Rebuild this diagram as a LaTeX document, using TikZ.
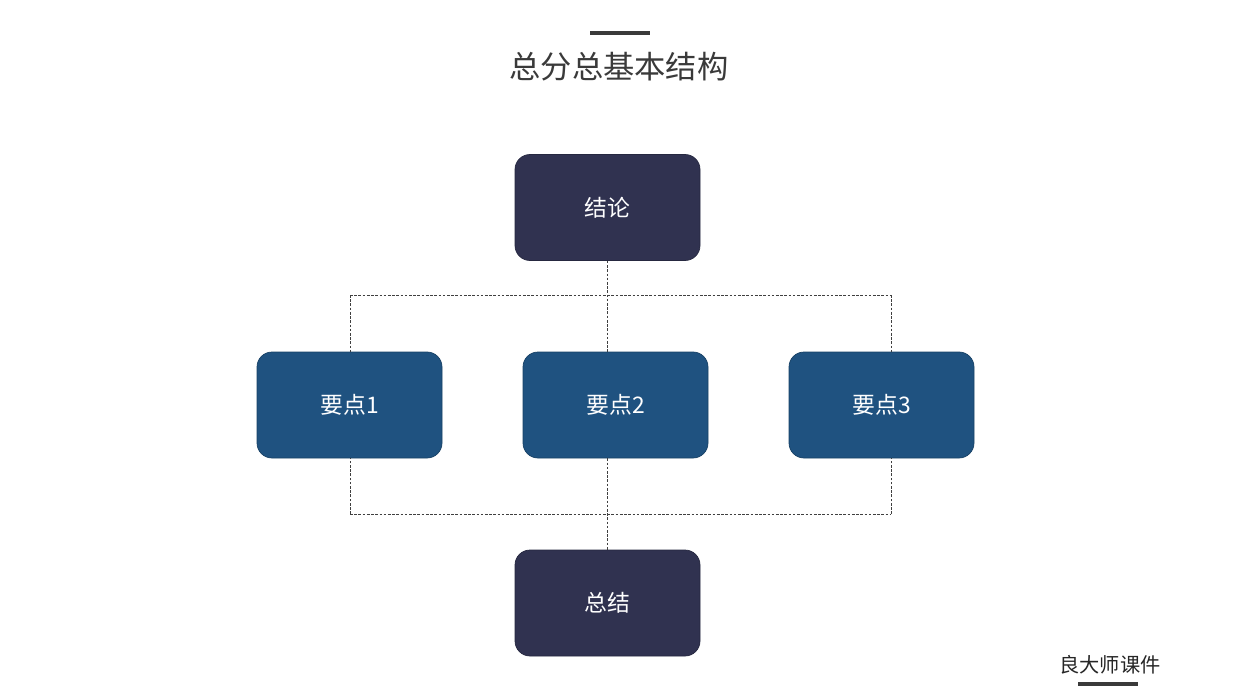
\documentclass[tikz,border=0pt]{standalone}
\usepackage{fontspec}
\newfontfamily\cjk{Noto Sans CJK SC}
\usetikzlibrary{calc}
\definecolor{navybox}{HTML}{303250}
\definecolor{bluebox}{HTML}{1F5280}
\definecolor{titlegray}{HTML}{3A3A3A}

\begin{document}
\begin{tikzpicture}[
		box/.style={rounded corners=0.3cm, minimum width=3.7cm, minimum height=2.12cm, inner sep=0pt, text=white, font=\cjk\fontsize{13}{15}\selectfont},
		endbox/.style={box, fill=navybox, draw=navybox!80!black},
		pointbox/.style={box, fill=bluebox, draw=bluebox!80!black},
		bus/.style={line width=0.5pt, color=black!75, dash pattern=on 1.5pt off 0.9pt},
		bar/.style={line width=1.8pt, color=titlegray}
	]
		%%%%% START %%%%%
		\useasboundingbox[fill=white] (0, 0) rectangle (24.8, 13.96);
		
		\draw[bar] (11.8, 13.3) -- (13.0, 13.3);
		\node[text=titlegray, font=\cjk\fontsize{17.8}{20}\selectfont] (title) at (12.38, 12.62) {总分总基本结构};
		
		\node[endbox] (jielun) at (12.15, 9.81) {结论};
		\node[pointbox] (yd1) at (6.99, 5.86) {要点1};
		\node[pointbox] (yd2) at (12.31, 5.86) {要点2};
		\node[pointbox] (yd3) at (17.63, 5.86) {要点3};
		\node[endbox] (zongjie) at (12.15, 1.90) {总结};
		
		\coordinate (tl) at (7.0, 8.06);
		\coordinate (tr) at (17.82, 8.06);
		\coordinate (bl) at (7.0, 3.68);
		\coordinate (br) at (17.82, 3.68);
		
		\draw[bus] (tl) -- (tr);
		\draw[bus] (tl) -- (tl |- yd1.north);
		\draw[bus] (tr) -- (tr |- yd3.north);
		\draw[bus] (jielun.south) -- (jielun.south |- yd2.north);
		
		\draw[bus] (bl) -- (br);
		\draw[bus] (bl) -- (bl |- yd1.south);
		\draw[bus] (br) -- (br |- yd3.south);
		\draw[bus] (jielun.south |- yd2.south) -- (zongjie.north);
		
		\node[text=black!85, font=\cjk\fontsize{11.5}{13}\selectfont] (brand) at (22.2, 0.66) {良大师课件};
		\draw[bar] (21.56, 0.28) -- (22.76, 0.28);
		%%%%% END %%%%%
	\end{tikzpicture}
\end{document}
